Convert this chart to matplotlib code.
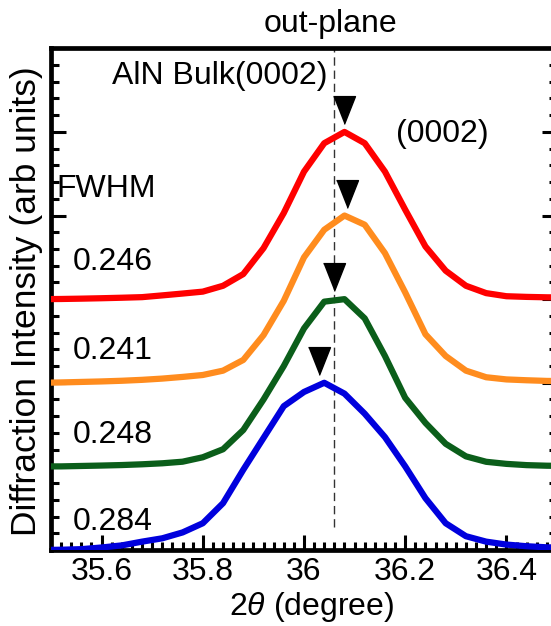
import matplotlib
matplotlib.use("Agg")
import matplotlib.pyplot as plt
from matplotlib.ticker import MultipleLocator, FuncFormatter

plt.rcParams["font.family"] = ["Liberation Sans", "DejaVu Sans"]
plt.rcParams["mathtext.fontset"] = "custom"
plt.rcParams["mathtext.rm"] = "Liberation Sans"
plt.rcParams["mathtext.it"] = "Liberation Sans:italic"

# 2theta sampling of the scans (degrees)
two_theta = [35.48, 35.52, 35.56, 35.60, 35.64, 35.68, 35.72, 35.76, 35.80,
             35.84, 35.88, 35.92, 35.96, 36.00, 36.04, 36.08, 36.12, 36.16,
             36.20, 36.24, 36.28, 36.32, 36.36, 36.40, 36.44, 36.48, 36.52]

# normalised intensities (peak = 2) of the four samples, top to bottom
red_scan = [0.0, 0.002, 0.006, 0.011, 0.017, 0.024, 0.045, 0.067, 0.09,
            0.16, 0.30, 0.61, 1.03, 1.525, 1.865, 2.0, 1.865, 1.525,
            1.07, 0.63, 0.34, 0.16, 0.072, 0.035, 0.027, 0.022, 0.02]
orange_scan = [0.0, 0.004, 0.01, 0.016, 0.024, 0.035, 0.05, 0.07, 0.093,
               0.145, 0.273, 0.57, 0.98, 1.50, 1.83, 2.0, 1.89, 1.55,
               1.08, 0.58, 0.32, 0.145, 0.066, 0.04, 0.03, 0.022, 0.02]
green_scan = [0.0, 0.0, 0.005, 0.01, 0.016, 0.025, 0.037, 0.056, 0.109,
              0.205, 0.435, 0.80, 1.20, 1.65, 1.97, 2.0, 1.77, 1.32,
              0.82, 0.52, 0.27, 0.12, 0.055, 0.03, 0.015, 0.008, 0.005]
blue_scan = [0.0, 0.003, 0.01, 0.03, 0.055, 0.10, 0.14, 0.21, 0.32,
             0.56, 0.96, 1.34, 1.72, 1.89, 2.0, 1.87, 1.63, 1.35,
             1.0, 0.62, 0.32, 0.165, 0.10, 0.065, 0.045, 0.032, 0.028]

scans = [red_scan, orange_scan, green_scan, blue_scan]
offsets = [3, 2, 1, 0]
colors = ["#ff0000", "#ff8c1e", "#0b5e1a", "#0000dd"]
peak_positions = [36.08, 36.085, 36.06, 36.03]
fwhm_labels = ["0.246", "0.241", "0.248", "0.284"]
fwhm_baselines_px = [270, 359, 443, 530]
bulk_position = 36.06

W, H = 551, 626
fig = plt.figure(figsize=(W / 100, H / 100), dpi=100)

def fx(px):
    return px / W

def fy(py):
    return 1 - py / H

ax_left, ax_right, ax_top, ax_bottom = 51, 557, 48.3, 550
ax = fig.add_axes([fx(ax_left), fy(ax_bottom), (ax_right - ax_left) / W,
                   (ax_bottom - ax_top) / H])

for vals, off, col in zip(scans, offsets, colors):
    ax.plot(two_theta, [v + off for v in vals], color=col, lw=4.5, zorder=3)

# peak markers
tri = [(-0.79, 1.0), (0.79, 1.0), (0.0, -1.0)]
for xp, off in zip(peak_positions, offsets):
    ax.plot([xp], [off + 2 + 0.26], marker=tri, ms=20, color="black",
            ls="none", zorder=4)

# bulk AlN reference position
ax.plot([bulk_position, bulk_position], [0.27, 6.0], color="#333333", lw=1.0,
        ls=(0, (6, 3.5)), zorder=2)

fs = 23

ax.set_xlim(35.5, 36.5)
ax.set_ylim(0, 6)
ax.xaxis.set_major_locator(MultipleLocator(0.2))
ax.xaxis.set_minor_locator(MultipleLocator(0.02))
ax.yaxis.set_major_locator(MultipleLocator(1))
ax.yaxis.set_minor_locator(MultipleLocator(0.2))
ax.xaxis.set_major_formatter(FuncFormatter(lambda v, p: f"{v:g}"))
ax.set_yticklabels([])
ax.tick_params(which="both", direction="in", top=False, right=True,
               width=2.2, labelsize=fs, pad=5)
ax.tick_params(which="major", length=11)
ax.tick_params(which="minor", length=6)
ax.tick_params(axis="y", which="both", labelleft=False)
for sp in ax.spines.values():
    sp.set_linewidth(3.4)

fig.text(fx(330), fy(32), "out-plane", fontsize=fs, ha="center", va="baseline")
fig.text(fx(328), fy(84), "AlN Bulk(0002)", fontsize=fs, ha="right", va="baseline")
fig.text(fx(442), fy(142), "(0002)", fontsize=fs, ha="center", va="baseline")
fig.text(fx(56), fy(197), "FWHM", fontsize=fs, ha="left", va="baseline")
for lab, yb in zip(fwhm_labels, fwhm_baselines_px):
    fig.text(fx(73), fy(yb), lab, fontsize=fs, ha="left", va="baseline")

fig.text(fx(312), fy(615), "2$\\it{\\theta}$ (degree)", fontsize=fs,
         ha="center", va="baseline")
fig.text(fx(27), fy(301), "Diffraction Intensity (arb units)", fontsize=25.5,
         rotation=90, ha="center", va="center")

fig.savefig("out.png", dpi=100)
